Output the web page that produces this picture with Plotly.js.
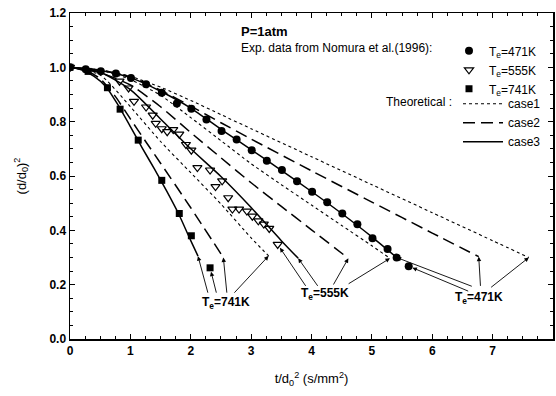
<!DOCTYPE html>
<html>
<head>
<meta charset="utf-8">
<script src="https://cdn.plot.ly/plotly-3.0.1.min.js"></script>
<style>html,body{margin:0;padding:0;background:#fff;}#chart{width:556px;height:396px;}</style>
</head>
<body>
<div id="chart"></div>
<script>
// Experimental data (Nomura et al. 1996)
const x471 = [0, 0.26, 0.51, 0.76, 1.01, 1.26, 1.52, 1.77, 2.01, 2.26, 2.51, 2.76, 3.01, 3.26, 3.51, 3.76, 4.01, 4.26, 4.51, 4.76, 5.01, 5.26, 5.41, 5.61];
const y471 = [1.0, 0.993, 0.986, 0.977, 0.961, 0.938, 0.906, 0.867, 0.848, 0.808, 0.766, 0.734, 0.695, 0.656, 0.622, 0.581, 0.542, 0.503, 0.462, 0.422, 0.371, 0.331, 0.300, 0.268];
const x555 = [0, 0.82, 0.97, 1.06, 1.26, 1.37, 1.42, 1.52, 1.61, 1.71, 1.81, 1.92, 2.01, 2.11, 2.32, 2.41, 2.52, 2.62, 2.69, 2.80, 2.93, 3.02, 3.12, 3.21, 3.30, 3.44];
const y555 = [1.0, 0.949, 0.924, 0.875, 0.854, 0.824, 0.794, 0.774, 0.763, 0.771, 0.754, 0.716, 0.695, 0.631, 0.622, 0.561, 0.582, 0.520, 0.478, 0.478, 0.471, 0.452, 0.435, 0.423, 0.407, 0.348];
const x741 = [0, 0.30, 0.62, 0.83, 1.13, 1.52, 1.81, 2.01, 2.32];
const y741 = [1.0, 0.985, 0.925, 0.846, 0.732, 0.584, 0.462, 0.380, 0.262];

// Theoretical curves
const c1_471_x = [0, 0.5, 1, 1.5, 2, 2.5, 3, 4, 5, 6, 7, 7.6];
const c1_471_y = [1, 0.99, 0.967, 0.927, 0.878, 0.826, 0.774, 0.671, 0.568, 0.465, 0.362, 0.30];
const c2_471_x = [0, 0.5, 1, 1.5, 2, 2.5, 3, 4, 5, 6, 6.77];
const c2_471_y = [1, 0.99, 0.965, 0.916, 0.857, 0.796, 0.736, 0.619, 0.504, 0.39, 0.303];
const c3_471_x = [0, 0.5, 1, 1.5, 2, 2.5, 3, 3.5, 4, 4.5, 5, 5.41];
const c3_471_y = [1, 0.988, 0.962, 0.912, 0.85, 0.772, 0.697, 0.621, 0.543, 0.462, 0.376, 0.30];

const c1_555_x = [0, 0.5, 1, 1.5, 2, 2.5, 3, 3.5, 4, 4.5, 5, 5.3];
const c1_555_y = [1, 0.99, 0.955, 0.897, 0.815, 0.73, 0.645, 0.568, 0.493, 0.418, 0.343, 0.297];
const c2_555_x = [0, 0.5, 1, 1.5, 2, 2.5, 3, 3.5, 4, 4.61];
const c2_555_y = [1, 0.98, 0.935, 0.855, 0.76, 0.667, 0.575, 0.488, 0.402, 0.297];
const c3_555_x = [0, 0.5, 1, 1.5, 2, 2.5, 3, 3.5, 3.78];
const c3_555_y = [1, 0.982, 0.918, 0.81, 0.70, 0.598, 0.484, 0.362, 0.297];

const c1_741_x = [0, 0.5, 1, 1.5, 2, 2.5, 3, 3.29];
const c1_741_y = [1, 0.972, 0.855, 0.727, 0.612, 0.497, 0.372, 0.306];
const c2_741_x = [0, 0.25, 0.5, 0.75, 1, 1.25, 1.5, 2, 2.54];
const c2_741_y = [1, 0.99, 0.958, 0.893, 0.81, 0.728, 0.647, 0.483, 0.30];
const c3_741_x = [0, 0.2, 0.4, 0.6, 0.8, 1, 1.2, 1.4, 1.6, 1.8, 2, 2.12];
const c3_741_y = [1, 0.99, 0.967, 0.928, 0.86, 0.782, 0.702, 0.625, 0.545, 0.46, 0.362, 0.305];

const seriesNames = ['T<sub>e</sub>=471K', 'T<sub>e</sub>=555K', 'T<sub>e</sub>=741K'];
const caseNames = ['case1', 'case2', 'case3'];

// label positions (data coords) for arrow annotations
const lab741 = [2.58, 0.132];
const lab555 = [4.22, 0.166];
const lab471 = [6.77, 0.150];

const FONT = 'Arial, "Liberation Sans", sans-serif';
const last = a => a[a.length - 1];

function lineTrace(x, y, dash, width, name, show) {
  return {x: x, y: y, type: 'scatter', mode: 'lines', name: name,
    line: {color: '#000', width: width, dash: dash, shape: 'spline', smoothing: 0.6},
    showlegend: show, legend: 'legend2', hoverinfo: 'skip'};
}

const DOT = 'dot', DASH = '12px,6px', SOLID = 'solid';
const traces = [
  lineTrace(c1_471_x, c1_471_y, DOT, 1.1, caseNames[0], true),
  lineTrace(c2_471_x, c2_471_y, DASH, 1.5, caseNames[1], true),
  lineTrace(c3_471_x, c3_471_y, SOLID, 1.5, caseNames[2], true),
  lineTrace(c1_555_x, c1_555_y, DOT, 1.1, caseNames[0], false),
  lineTrace(c2_555_x, c2_555_y, DASH, 1.5, caseNames[1], false),
  lineTrace(c3_555_x, c3_555_y, SOLID, 1.5, caseNames[2], false),
  lineTrace(c1_741_x, c1_741_y, DOT, 1.1, caseNames[0], false),
  lineTrace(c2_741_x, c2_741_y, DASH, 1.5, caseNames[1], false),
  lineTrace(c3_741_x, c3_741_y, SOLID, 1.5, caseNames[2], false),
  {x: x471, y: y471, type: 'scatter', mode: 'markers', name: seriesNames[0], legend: 'legend',
   marker: {symbol: 'circle', size: 8, color: '#000'}},
  {x: x555, y: y555, type: 'scatter', mode: 'markers', name: seriesNames[1], legend: 'legend',
   marker: {symbol: 'triangle-down-open', size: 8, color: '#000', line: {width: 1.2, color: '#000'}}},
  {x: x741, y: y741, type: 'scatter', mode: 'markers', name: seriesNames[2], legend: 'legend',
   marker: {symbol: 'square', size: 7, color: '#000'}}
];

function arrow(tx, ty, ax, ay, standoff) {
  return {x: tx, y: ty, ax: ax, ay: ay, xref: 'x', yref: 'y', axref: 'x', ayref: 'y',
    text: '', showarrow: true, arrowhead: 2, arrowsize: 1, arrowwidth: 0.9, arrowcolor: '#000',
    standoff: standoff || 0};
}
function label(pos, txt) {
  return {x: pos[0], y: pos[1], xref: 'x', yref: 'y', text: '<b>' + txt + '</b>', showarrow: false,
    font: {family: FONT, size: 12, color: '#000'}};
}
const px = v => (v - 70) / 483;
const py = v => (339 - v) / 326.4;

const annotations = [
  // 741K
  arrow(last(c3_741_x), last(c3_741_y), 2.29, 0.165),
  arrow(last(x741), last(y741), 2.43, 0.165, 4),
  arrow(last(c2_741_x), last(c2_741_y), 2.60, 0.165),
  arrow(last(c1_741_x), last(c1_741_y), 2.70, 0.165),
  label(lab741, seriesNames[2]),
  // 555K
  arrow(last(x555), last(y555), 3.92, 0.19, 4),
  arrow(last(c3_555_x), last(c3_555_y), 4.12, 0.19),
  arrow(last(c2_555_x), last(c2_555_y), 4.35, 0.195),
  arrow(last(c1_555_x), last(c1_555_y), 4.59, 0.20),
  label(lab555, seriesNames[1]),
  // 471K
  arrow(last(c3_471_x), last(c3_471_y), 6.68, 0.192),
  arrow(last(x471), last(y471), 6.62, 0.174, 4),
  arrow(last(c2_471_x), last(c2_471_y), 6.80, 0.19),
  arrow(last(c1_471_x), last(c1_471_y), 6.95, 0.186),
  label(lab471, seriesNames[0]),
  // text block
  {x: px(239), y: py(31), xref: 'paper', yref: 'paper', xanchor: 'left', yanchor: 'middle',
   text: '<b>P=1atm</b>', showarrow: false, font: {family: FONT, size: 13, color: '#000'}},
  {x: px(239), y: py(48), xref: 'paper', yref: 'paper', xanchor: 'left', yanchor: 'middle',
   text: 'Exp. data from Nomura et al.(1996):', showarrow: false, font: {family: FONT, size: 12, color: '#000'}},
  {x: px(454), y: py(102), xref: 'paper', yref: 'paper', xanchor: 'right', yanchor: 'middle',
   text: 'Theoretical :', showarrow: false, font: {family: FONT, size: 12, color: '#000'}}
];

const axisCommon = {
  showline: true, linewidth: 1.5, linecolor: '#000', mirror: 'ticks',
  ticks: 'inside', ticklen: 5, tickwidth: 1, tickcolor: '#000',
  showgrid: false, zeroline: false,
  tickfont: {family: FONT, size: 12, color: '#000', weight: 'bold'}
};

const layout = {
  width: 556, height: 396,
  margin: {l: 70, r: 3, t: 13, b: 57},
  paper_bgcolor: '#fff', plot_bgcolor: '#fff',
  font: {family: FONT, color: '#000'},
  xaxis: Object.assign({}, axisCommon, {
    range: [0, 8], tick0: 0, dtick: 1,
    minor: {dtick: 0.25, ticks: 'inside', ticklen: 3, tickcolor: '#000'},
    title: {text: 't/d<sub>0</sub><sup>2</sup> (s/mm<sup>2</sup>)', font: {family: FONT, size: 13, color: '#000'}, standoff: 17}
  }),
  yaxis: Object.assign({}, axisCommon, {
    range: [0, 1.2], tick0: 0, dtick: 0.2, tickformat: '.1f',
    minor: {dtick: 0.05, ticks: 'inside', ticklen: 3, tickcolor: '#000'},
    title: {text: '(d/d<sub>0</sub>)<sup>2</sup>', font: {family: FONT, size: 13, color: '#000'}, standoff: 20}
  }),
  showlegend: true,
  legend: {x: px(449), y: py(36), xanchor: 'left', yanchor: 'top', bgcolor: 'rgba(0,0,0,0)',
    font: {family: FONT, size: 12, color: '#000'}, itemwidth: 30, tracegroupgap: 0},
  legend2: {x: px(458), y: py(89), xanchor: 'left', yanchor: 'top', bgcolor: 'rgba(0,0,0,0)',
    font: {family: FONT, size: 12, color: '#000'}, itemwidth: 40, tracegroupgap: 0},
  annotations: annotations
};

Plotly.newPlot('chart', traces, layout, {displayModeBar: false, staticPlot: true});
</script>
</body>
</html>
